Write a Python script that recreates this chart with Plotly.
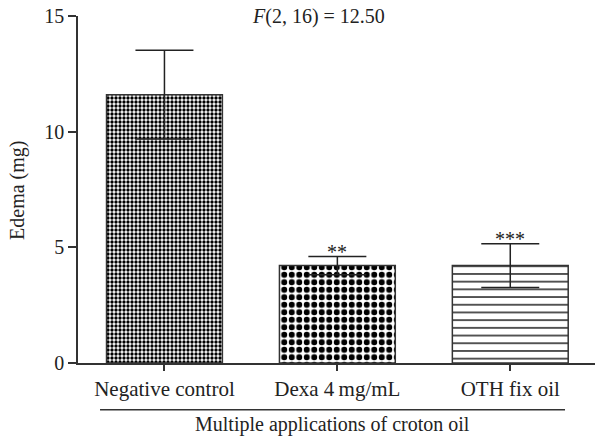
import plotly.graph_objects as go

categories = ["Negative control", "Dexa 4\u2009mg/mL", "OTH fix oil"]
means = [11.6, 4.21, 4.21]
errors = [1.92, 0.39, 0.95]
signif = ["", "**", "***"]
pattern_shapes = [".", ".", "-"]
pattern_sizes = [4, 7.5, 7.7]
pattern_solidity = [0.55, 0.5, 0.17]

y_ticks = [0, 5, 10, 15]

FONT = "Liberation Serif"
FS = 20

fig = go.Figure()
fig.add_trace(go.Bar(
    x=categories,
    y=means,
    width=0.67,
    marker=dict(
        color="white",
        line=dict(color="#333333", width=1.5),
        pattern=dict(shape=pattern_shapes, size=pattern_sizes,
                     solidity=pattern_solidity,
                     fgcolor="black", bgcolor="white", fillmode="replace"),
    ),
    error_y=dict(type="data", array=errors, visible=True,
                 color="#222222", thickness=1.5, width=29),
    showlegend=False,
    hoverinfo="skip",
))

for c, m, e, s in zip(categories, means, errors, signif):
    if s:
        fig.add_annotation(x=c, y=m + e, text=s, showarrow=False,
                           xref="x", yref="y", yanchor="bottom", yshift=-8,
                           font=dict(family=FONT, size=20, color="#222222"))

fig.add_annotation(text="<i>F</i>(2, 16) = 12.50", x=0.466, y=1.0,
                   xref="paper", yref="paper", xanchor="center", yanchor="middle",
                   showarrow=False, font=dict(family=FONT, size=FS, color="#222222"))

fig.add_annotation(text="Edema (mg)", x=-0.116, y=0.496, textangle=-90,
                   xref="paper", yref="paper", xanchor="center", yanchor="middle",
                   showarrow=False, font=dict(family=FONT, size=FS, color="#222222"))

fig.add_annotation(text="Multiple applications of croton oil", x=0.493, y=-0.178,
                   xref="paper", yref="paper", xanchor="center", yanchor="middle",
                   showarrow=False, font=dict(family=FONT, size=FS, color="#222222"))

fig.add_shape(type="line", xref="paper", yref="paper",
              x0=0.0426, x1=0.942, y0=-0.135, y1=-0.135,
              line=dict(color="#333333", width=1.5))

fig.update_layout(
    width=595, height=439,
    margin=dict(l=78, r=0, t=16, b=76),
    plot_bgcolor="white", paper_bgcolor="white",
    font=dict(family=FONT, size=FS, color="#222222"),
)
fig.update_xaxes(range=[-0.5, 2.49], showline=True, linecolor="#333333", linewidth=1.5,
                 ticks="outside", ticklen=6, tickwidth=1.5, tickcolor="#333333",
                 showgrid=False, zeroline=False, automargin=False,
                 tickfont=dict(size=21))
fig.update_yaxes(range=[0, 15], tickvals=y_ticks, showline=True, linecolor="#333333",
                 linewidth=1.5, ticks="outside", ticklen=8, tickwidth=1.5,
                 tickcolor="#333333", showgrid=False, zeroline=False, automargin=False)

fig.write_html("out.html", config={"displayModeBar": False},
               post_script="document.body.style.margin='0';document.body.style.overflow='hidden';")
